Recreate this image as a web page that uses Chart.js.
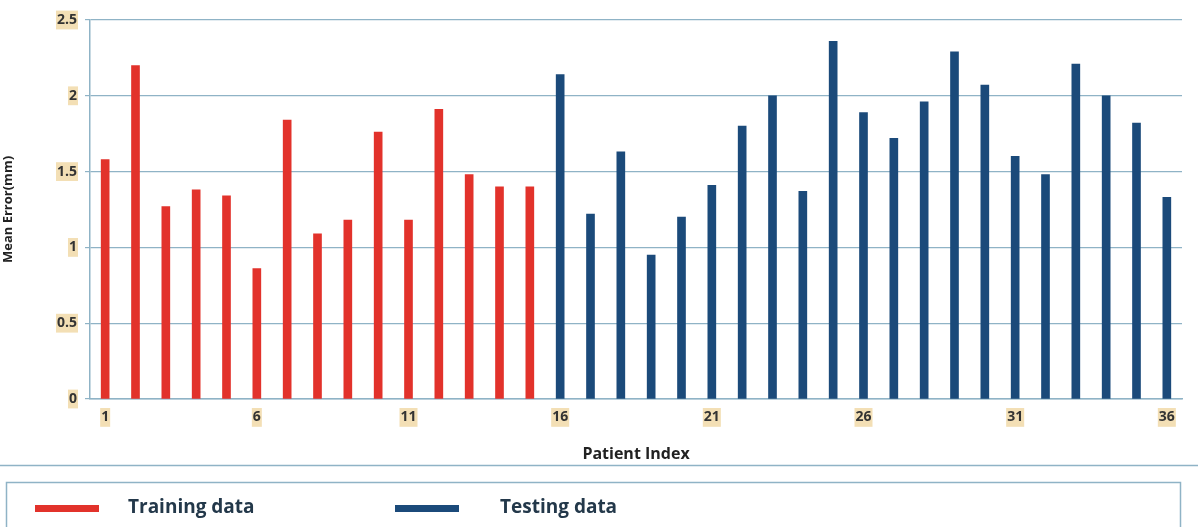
<!DOCTYPE html>
<html>
<head>
<meta charset="utf-8">
<script src="https://cdn.jsdelivr.net/npm/chart.js@4/dist/chart.umd.min.js"></script>
<style>
  html, body { margin: 0; padding: 0; background: #fff; }
  #wrap { width: 1198px; height: 527px; position: relative; }
</style>
</head>
<body>
<div id="wrap"><canvas id="chart"></canvas></div>
<script>
// Patient indices 1..36
var patients = ['1','2','3','4','5','6','7','8','9','10','11','12','13','14','15','16','17','18',
                '19','20','21','22','23','24','25','26','27','28','29','30','31','32','33','34','35','36'];

// Mean error (mm), training patients 1-15
var trainingErr = [1.58, 2.20, 1.27, 1.38, 1.34, 0.86, 1.84, 1.09, 1.18, 1.76, 1.18, 1.91, 1.48, 1.40, 1.40];

// Mean error (mm), testing patients 16-36
var testingErr = [2.14, 1.22, 1.63, 0.95, 1.20, 1.41, 1.80, 2.00, 1.37, 2.36, 1.89,
                  1.72, 1.96, 2.29, 2.07, 1.60, 1.48, 2.21, 2.00, 1.82, 1.33];

var yTicks = [0, 0.5, 1, 1.5, 2, 2.5];

var RED = '#e2322b';
var BLUE = '#1b4a7a';
var GRID = '#8fb3c6';

// align series onto the shared category axis
var trainSeries = patients.map(function (p, i) { return i < trainingErr.length ? trainingErr[i] : null; });
var testSeries = patients.map(function (p, i) {
    var j = i - trainingErr.length;
    return j >= 0 ? testingErr[j] : null;
});

// separator line + framed legend under the axis title
var legendBox = {
    id: 'legendBox',
    afterDraw: function (chart) {
        var ctx = chart.ctx;
        ctx.save();
        ctx.strokeStyle = GRID;
        ctx.lineWidth = 1.5;
        ctx.beginPath();
        ctx.moveTo(0, 465.5);
        ctx.lineTo(1198, 465.5);
        ctx.stroke();
        ctx.strokeRect(6.5, 482.5, 1174, 60);

        var items = chart.data.datasets;
        var sx = [35, 395], tx = [128, 500];
        ctx.font = 'bold 19px "Open Sans", sans-serif';
        ctx.textBaseline = 'middle';
        items.forEach(function (ds, i) {
            ctx.fillStyle = ds.backgroundColor;
            ctx.fillRect(sx[i], 505, 64, 7);
            ctx.fillStyle = '#23384a';
            ctx.fillText(ds.label, tx[i], 508);
        });
        ctx.restore();
    }
};

new Chart(document.getElementById('chart'), {
    type: 'bar',
    data: {
        labels: patients,
        datasets: [{
            label: 'Training data',
            data: trainSeries,
            backgroundColor: RED,
            barThickness: 8,
            grouped: false
        }, {
            label: 'Testing data',
            data: testSeries,
            backgroundColor: BLUE,
            barThickness: 8,
            grouped: false
        }]
    },
    options: {
        responsive: true,
        maintainAspectRatio: false,
        animation: false,
        layout: { padding: { top: 20, right: 16, bottom: 63, left: 0 } },
        plugins: {
            legend: { display: false },
            tooltip: { enabled: false }
        },
        scales: {
            x: {
                grid: { display: false, drawTicks: false },
                border: { color: GRID, width: 1.5 },
                ticks: {
                    autoSkip: false,
                    maxRotation: 0,
                    padding: 10,
                    color: '#333',
                    font: { family: '"Open Sans", sans-serif', size: 14, weight: 'bold' },
                    showLabelBackdrop: true,
                    backdropColor: 'rgba(238, 210, 150, 0.7)',
                    backdropPadding: 1,
                    callback: function (v, i) { return i % 5 === 0 ? patients[i] : null; }
                },
                title: {
                    display: true,
                    text: 'Patient Index',
                    color: '#222',
                    font: { family: '"Open Sans", sans-serif', size: 16, weight: 'bold' },
                    padding: { top: 0, bottom: 0 }
                },
                afterFit: function (s) { s.height = 65; }
            },
            y: {
                min: 0,
                max: 2.5,
                afterBuildTicks: function (s) {
                    s.ticks = yTicks.map(function (v) { return { value: v }; });
                },
                grid: { color: GRID, lineWidth: 1.2, tickLength: 5 },
                border: { color: GRID, width: 1.5 },
                ticks: {
                    padding: 8,
                    color: '#333',
                    font: { family: '"Open Sans", sans-serif', size: 14, weight: 'bold' },
                    showLabelBackdrop: true,
                    backdropColor: 'rgba(238, 210, 150, 0.7)',
                    backdropPadding: 1,
                    callback: function (v) { return String(v); }
                },
                title: {
                    display: true,
                    text: 'Mean Error(mm)',
                    color: '#222',
                    font: { family: '"Open Sans", sans-serif', size: 13, weight: 'bold' },
                    padding: { top: 0, bottom: 16 }
                },
                afterFit: function (s) { s.width = 90; }
            }
        }
    },
    plugins: [legendBox]
});
</script>
</body>
</html>
